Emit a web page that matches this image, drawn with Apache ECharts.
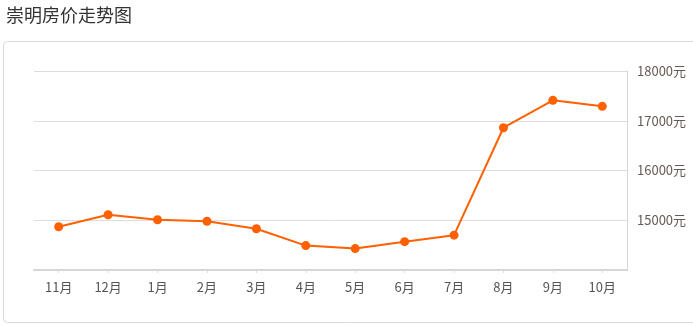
<!DOCTYPE html>
<html>
<head>
<meta charset="utf-8">
<script src="https://cdn.jsdelivr.net/npm/echarts@6/dist/echarts.min.js"></script>
<style>
html,body{margin:0;padding:0;background:#fff;}
#c{width:693px;height:326px;}
</style>
</head>
<body>
<div id="c"></div>
<script>
var titleText = '崇明房价走势图';
var categories = ['11月','12月','1月','2月','3月','4月','5月','6月','7月','8月','9月','10月'];
var prices = [14870, 15110, 15010, 14980, 14830, 14490, 14430, 14570, 14700, 16860, 17410, 17290];
var yUnit = '元';

var chart = echarts.init(document.getElementById('c'));
chart.setOption({
  animation: false,
  backgroundColor: '#fff',
  title: {
    text: titleText,
    left: 1,
    top: 1,
    textStyle: {fontFamily: 'Noto Sans CJK SC', fontSize: 18, fontWeight: 'normal', color: '#333'}
  },
  graphic: [{
    type: 'rect',
    shape: {x: 3.5, y: 41.5, width: 720, height: 281, r: 4},
    style: {fill: 'none', stroke: '#d9d9d9', lineWidth: 1},
    z: -1
  }],
  grid: {left: 34, right: 66, top: 71, bottom: 56},
  xAxis: {
    type: 'category',
    data: categories,
    boundaryGap: true,
    axisLine: {show: true, lineStyle: {color: '#d6d6d6', width: 2}},
    axisTick: {show: true, alignWithLabel: true, length: 3, lineStyle: {color: '#ddd'}},
    axisLabel: {color: '#555', fontSize: 13, margin: 11, fontFamily: 'Noto Sans CJK SC'},
    splitLine: {show: false}
  },
  yAxis: {
    type: 'value',
    position: 'right',
    min: 14000,
    max: 18000,
    interval: 1000,
    axisLine: {show: true, lineStyle: {color: '#d6d6d6', width: 1}},
    axisTick: {show: false},
    axisLabel: {
      color: '#665a55', fontSize: 13, margin: 10, fontFamily: 'Noto Sans CJK SC',
      formatter: function (v) { return v === 14000 ? '' : v + yUnit; }
    },
    splitLine: {show: true, lineStyle: {color: '#dcdcdc', width: 1}}
  },
  series: [{
    type: 'line',
    data: prices,
    symbol: 'circle',
    symbolSize: 9,
    itemStyle: {color: '#ff6000'},
    lineStyle: {color: '#ff6000', width: 2}
  }]
});
</script>
</body>
</html>
